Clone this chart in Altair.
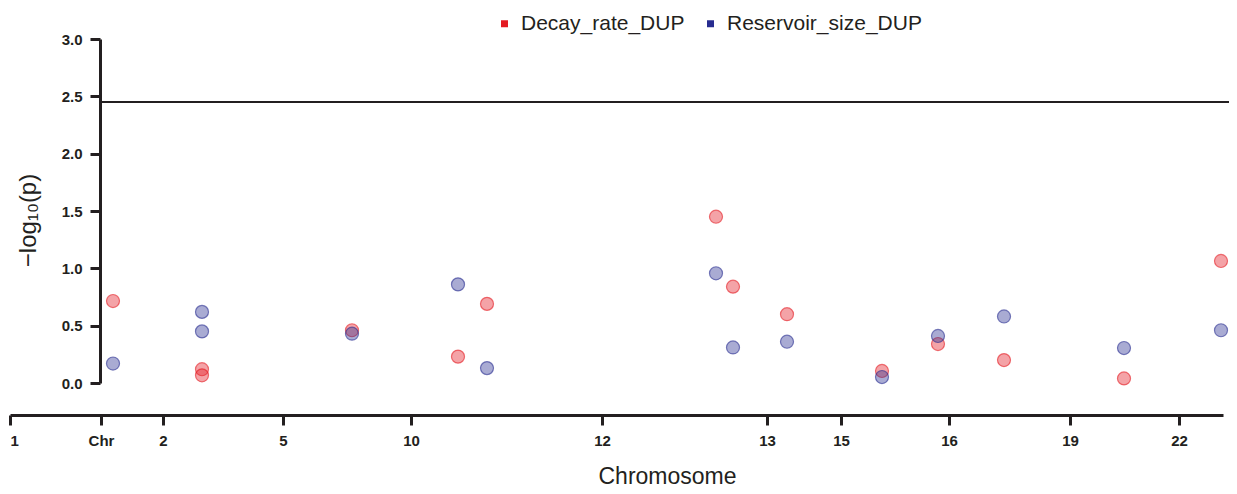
import altair as alt
import pandas as pd

# x positions are cumulative genome coordinates (arbitrary units along the chromosome axis)
decay_pos = [103, 192, 192, 342, 448, 477, 706, 723, 777, 872, 928, 994, 1114, 1211]
decay_val = [0.715, 0.12, 0.067, 0.46, 0.23, 0.69, 1.45, 0.84, 0.60, 0.105, 0.34, 0.20, 0.04, 1.064]
res_pos = [103, 192, 192, 342, 448, 477, 706, 723, 777, 872, 928, 994, 1114, 1211]
res_val = [0.17, 0.62, 0.45, 0.43, 0.86, 0.13, 0.957, 0.31, 0.36, 0.052, 0.41, 0.58, 0.305, 0.46]

tick_pos = [0, 91, 153, 273, 401, 592, 757, 831, 939, 1060, 1169]
tick_labels = ["1", "Chr", "2", "5", "10", "12", "13", "15", "16", "19", "22"]
threshold = 2.45
x_max = 1213

traits = ["Decay_rate_DUP", "Reservoir_size_DUP"]
colors = ["#e41a22", "#272c90"]

df = pd.DataFrame(
    {"pos": decay_pos + res_pos,
     "val": decay_val + res_val,
     "trait": [traits[0]] * len(decay_pos) + [traits[1]] * len(res_pos)}
)

label_expr = ""
for p, l in zip(tick_pos, tick_labels):
    label_expr += f"datum.value == {p} ? '{l}' : "
label_expr += "''"

FONT = "Liberation Sans"
INK = "#231f20"

x_scale = alt.Scale(domain=[0, x_max], nice=False, zero=False)
y_scale = alt.Scale(domain=[0, 3], nice=False, zero=True)

color_scale = alt.Scale(domain=traits, range=colors)

points = alt.Chart(df).mark_circle(
    size=170, fillOpacity=0.4, strokeOpacity=0.6, strokeWidth=1.2
).encode(
    x=alt.X("pos:Q", scale=x_scale,
            axis=alt.Axis(values=tick_pos, labelExpr=label_expr, title="Chromosome",
                          offset=32, domainWidth=3, domainColor=INK, tickWidth=3,
                          tickColor=INK, tickSize=10, labelFont=FONT, labelFontSize=15,
                          labelFontWeight="bold", labelColor=INK, labelPadding=8,
                          labelFlush=True, labelOverlap=False,
                          titleFont=FONT, titleFontSize=23, titleFontWeight="normal",
                          titleColor=INK, titleX=657, titleY=68,
                          titleBaseline="alphabetic", titleAlign="center", grid=False)),
    y=alt.Y("val:Q", scale=y_scale,
            axis=alt.Axis(values=[0, 0.5, 1, 1.5, 2, 2.5, 3], format=".1f",
                          title="−log₁₀(p)", offset=-90, domainWidth=3, domainColor=INK,
                          tickWidth=3, tickColor=INK, tickSize=10, labelFont=FONT,
                          labelFontSize=15, labelFontWeight="bold", labelColor=INK,
                          labelPadding=8, labelFlush=False,
                          titleFont=FONT, titleFontSize=24, titleFontWeight="normal",
                          titleColor=INK, titleX=-72, titleY=181, titleAngle=-90,
                          titleAlign="center", titleBaseline="middle", grid=False)),
    color=alt.Color("trait:N", scale=color_scale,
                    legend=alt.Legend(title=None, orient="none", direction="horizontal",
                                      legendX=484, legendY=-26, symbolType="square",
                                      symbolSize=49, symbolOpacity=1, symbolStrokeWidth=0,
                                      labelFont=FONT, labelFontSize=21, labelColor=INK,
                                      labelLimit=400, labelOffset=6, columnPadding=15,
                                      padding=0)),
    stroke=alt.Stroke("trait:N", scale=color_scale, legend=None),
    order=alt.Order("trait:N"),
)

rule_df = pd.DataFrame({"start": [tick_pos[1]], "y": [threshold]})
rule = alt.Chart(rule_df).mark_rule(color=INK, strokeWidth=2).encode(
    x=alt.X("start:Q", scale=x_scale),
    x2=alt.value(x_max + 20),
    y=alt.Y("y:Q", scale=y_scale),
)

chart = alt.layer(rule, points).properties(
    width=x_max, height=344,
    autosize=alt.AutoSizeParams(type="none"),
    padding={"left": 2, "top": 31, "right": 6, "bottom": 106},
).configure(background="white").configure_view(strokeWidth=0, stroke="transparent")

chart.save("out.html", embed_options={"renderer": "svg", "actions": False})
